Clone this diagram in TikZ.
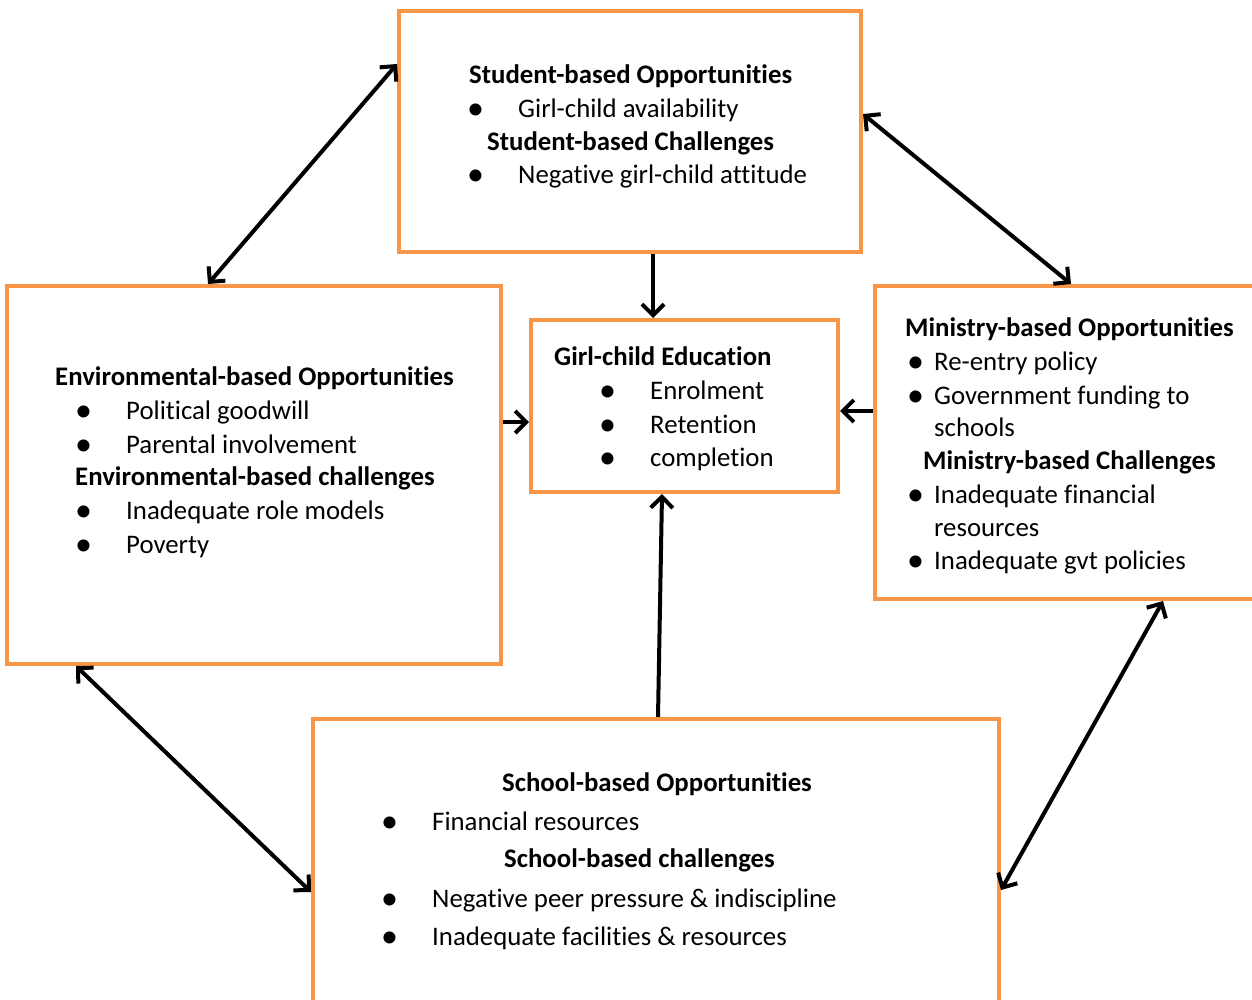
\documentclass[tikz,border=0pt]{standalone}
\usepackage{fontspec}
\setmainfont{Carlito}[RawFeature=-liga]
\usetikzlibrary{arrows.meta,calc}
\definecolor{boxorange}{HTML}{F79646}
\newcommand\bulitem[1]{\makebox[#1][l]{\raisebox{-2pt}{\fontsize{34}{34}\selectfont •}}}
\begin{document}
\begin{tikzpicture}[x=1pt,y=-1pt,
  >={Straight Barb[length=11pt,width=22pt,line width=4pt]},
  box/.style={draw=boxorange, line width=4pt, fill=white, inner sep=0pt, rectangle},
  t/.style={anchor=base west, inner sep=0pt, font=\fontsize{26.8}{32}\selectfont, yshift=-9pt},
  tb/.style={t, font=\fontsize{26.8}{32}\selectfont\bfseries},
  conn/.style={draw=black, line width=4pt, ->},
  dconn/.style={draw=black, line width=4pt, <->}
]
\useasboundingbox (0,0) rectangle (1252,999);
\clip (0,0) rectangle (1252,999);
\fill[white] (0,0) rectangle (1252,999);

% boxes
\node[box, minimum width=462pt, minimum height=241pt] (top) at (630,131.5) {};
\node[box, minimum width=494pt, minimum height=378pt] (env) at (254,475) {};
\node[box, minimum width=307pt, minimum height=172pt] (ctr) at (684.5,406) {};
\node[box, minimum width=381pt, minimum height=313pt] (min) at (1065.5,442.5) {};
\node[box, minimum width=686pt, minimum height=290pt] (sch) at (656,864) {};

% top box text
\node[tb] (t1) at (469,74) {Student-based Opportunities};
\node[t] (t2) at (467,108) {\bulitem{51pt}Girl-child availability};
\node[tb] (t3) at (487,141) {Student-based Challenges};
\node[t] (t4) at (467,174) {\bulitem{51pt}Negative girl-child attitude};

% environmental box text
\node[tb] (e1) at (55,376) {Environmental-based Opportunities};
\node[t] (e2) at (75,410) {\bulitem{51pt}Political goodwill};
\node[t] (e3) at (75,444) {\bulitem{51pt}Parental involvement};
\node[tb] (e4) at (75,476) {Environmental-based challenges};
\node[t] (e5) at (75,510) {\bulitem{51pt}Inadequate role models};
\node[t] (e6) at (75,544) {\bulitem{51pt}Poverty};

% centre box text
\node[tb] (c1) at (554,356) {Girl-child Education};
\node[t] (c2) at (599,390) {\bulitem{51pt}Enrolment};
\node[t] (c3) at (599,424) {\bulitem{51pt}Retention};
\node[t] (c4) at (599,457) {\bulitem{51pt}completion};

% ministry box text
\node[tb] (m1) at (905,327) {Ministry-based Opportunities};
\node[t] (m2) at (907,361) {\bulitem{27pt}Re-entry policy};
\node[t] (m3) at (907,395) {\bulitem{27pt}Government funding to};
\node[t] (m3c) at (934,427) {schools};
\node[tb] (m4) at (923,460) {Ministry-based Challenges};
\node[t] (m5) at (907,494) {\bulitem{27pt}Inadequate financial};
\node[t] (m5c) at (934,527) {resources};
\node[t] (m6) at (907,560) {\bulitem{27pt}Inadequate gvt policies};

% school box text
\node[tb] (s1) at (502,782) {School-based Opportunities};
\node[t] (s2) at (381,821) {\bulitem{51pt}Financial resources};
\node[tb] (s3) at (504,858) {School-based challenges};
\node[t] (s4) at (381,898) {\bulitem{51pt}Negative peer pressure \& indiscipline};
\node[t] (s5) at (381,936) {\bulitem{51pt}Inadequate facilities \& resources};

% connectors
\draw[dconn] ($(top.north west)+(0,55)$) -- ($(env.north west)+(203,0)$);
\draw[dconn] ($(top.north east)+(0,105)$) -- ($(min.north west)+(198,0)$);
\draw[conn] ($(top.south west)+(256,0)$) -- ($(ctr.north west)+(124,0)$);
\draw[conn] ($(env.north east)+(0,138)$) -- ($(ctr.north west)+(0,104)$);
\draw[conn] ($(min.north west)+(0,127)$) -- ($(ctr.north east)+(0,93)$);
\draw[conn] ($(sch.north west)+(347,0)$) -- ($(ctr.south west)+(133,0)$);
\draw[dconn] ($(env.south west)+(71,0)$) -- ($(sch.north west)+(0,175)$);
\draw[dconn] ($(min.south west)+(290,0)$) -- ($(sch.north east)+(0,173)$);
\end{tikzpicture}
\end{document}
